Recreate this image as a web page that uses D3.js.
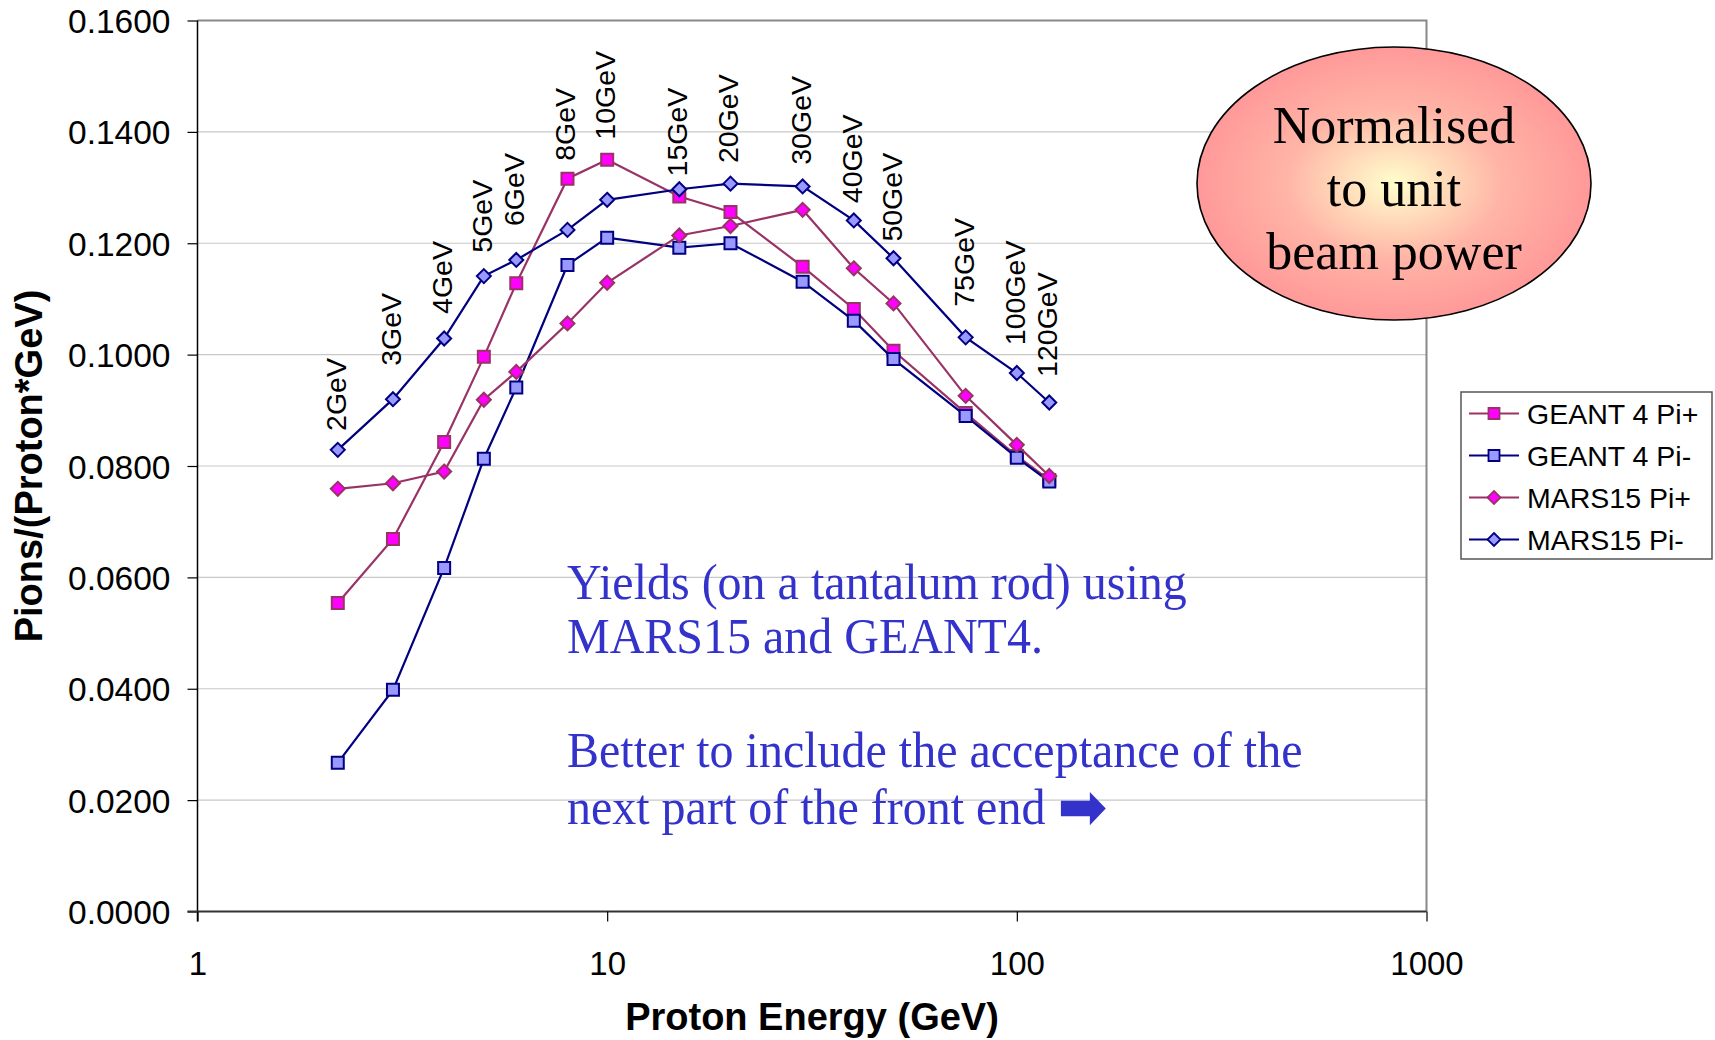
<!DOCTYPE html>
<html>
<head>
<meta charset="utf-8">
<script src="https://cdn.jsdelivr.net/npm/d3@7/dist/d3.min.js"></script>
<style>
  body { margin: 0; background: #fff; }
  svg { display: block; }
</style>
</head>
<body>
<div id="chart"></div>
<script>
// proton energy (GeV) and the labels printed over each point
var energy = [2.2, 3, 4, 5, 6, 8, 10, 15, 20, 30, 40, 50, 75, 100, 120];
var energyLabels = ["2GeV", "3GeV", "4GeV", "5GeV", "6GeV", "8GeV", "10GeV", "15GeV",
                    "20GeV", "30GeV", "40GeV", "50GeV", "75GeV", "100GeV", "120GeV"];
// height (in y units) where each energy label starts
var labelBase = [0.0863, 0.0980, 0.1073, 0.1183, 0.1231, 0.1348, 0.1386, 0.1320,
                 0.1344, 0.1341, 0.1272, 0.1203, 0.1086, 0.1017, 0.0960];

var g4PiPlus   = [0.0554, 0.0669, 0.0843, 0.0996, 0.1128, 0.1316, 0.1350, 0.1284,
                  0.1256, 0.1158, 0.1082, 0.1007, 0.0895, 0.0818, 0.0775];
var g4PiMinus  = [0.0267, 0.0398, 0.0617, 0.0813, 0.0941, 0.1161, 0.1210, 0.1192,
                  0.1200, 0.1131, 0.1061, 0.0992, 0.0890, 0.0815, 0.0772];
var marsPiPlus = [0.0759, 0.0769, 0.0790, 0.0919, 0.0969, 0.1056, 0.1129, 0.1214,
                  0.1231, 0.1260, 0.1155, 0.1092, 0.0926, 0.0838, 0.0782];
var marsPiMinus= [0.0829, 0.0920, 0.1029, 0.1141, 0.1170, 0.1224, 0.1278, 0.1297,
                  0.1307, 0.1302, 0.1241, 0.1173, 0.1031, 0.0967, 0.0914];

var seriesNames = ["GEANT 4 Pi+", "GEANT 4 Pi-", "MARS15 Pi+", "MARS15 Pi-"];
var yTicks = [0, 0.02, 0.04, 0.06, 0.08, 0.10, 0.12, 0.14, 0.16];
var xTicks = [1, 10, 100, 1000];

var series = [
  {name: seriesNames[0], values: g4PiPlus,   line: "#993366", fill: "#FF00FF", stroke: "#993366", shape: "square"},
  {name: seriesNames[1], values: g4PiMinus,  line: "#000080", fill: "#9999FF", stroke: "#000080", shape: "square"},
  {name: seriesNames[2], values: marsPiPlus, line: "#993366", fill: "#FF00FF", stroke: "#993366", shape: "diamond"},
  {name: seriesNames[3], values: marsPiMinus,line: "#000080", fill: "#9999FF", stroke: "#000080", shape: "diamond"}
];

var W = 1715, H = 1040;
var plotL = 197.5, plotR = 1426.5, plotT = 20.5, plotB = 911.5;

var svg = d3.select("#chart").append("svg")
    .attr("width", W)
    .attr("height", H);

var x = d3.scaleLog().domain([1, 1000]).range([plotL, plotR]);
var y = d3.scaleLinear().domain([0, 0.16]).range([plotB, plotT]);

// gridlines
svg.append("g")
  .selectAll("line")
  .data(yTicks.slice(1, -1))
  .enter().append("line")
    .attr("x1", plotL).attr("x2", plotR)
    .attr("y1", function(d) { return y(d); })
    .attr("y2", function(d) { return y(d); })
    .style("stroke", "#c8c8c8")
    .style("stroke-width", 1.2);

// plot border top and right
svg.append("path")
    .attr("d", "M" + plotL + "," + plotT + "H" + plotR + "V" + plotB)
    .style("fill", "none")
    .style("stroke", "#888")
    .style("stroke-width", 2);

// axes
var yAxis = svg.append("g")
    .attr("transform", "translate(" + plotL + ",0)")
    .call(d3.axisLeft(y).tickValues(yTicks).tickSize(10).tickSizeOuter(0).tickFormat(d3.format(".4f")));
yAxis.select(".domain").style("stroke", "#000").style("stroke-width", 1.5)
    .attr("d", "M0," + plotT + "V" + (plotB + 10));
yAxis.selectAll(".tick line").style("stroke", "#000").style("stroke-width", 1.2);
yAxis.selectAll(".tick text")
    .attr("x", -27).attr("dy", null).attr("y", 12)
    .style("font-family", "Liberation Sans, Arial, sans-serif")
    .style("font-size", "33.5px")
    .style("fill", "#000");

var xAxis = svg.append("g")
    .attr("transform", "translate(0," + plotB + ")")
    .call(d3.axisBottom(x).tickValues(xTicks).tickSize(10).tickSizeOuter(0).tickFormat(d3.format("d")));
xAxis.select(".domain").style("stroke", "#333").style("stroke-width", 2.2)
    .attr("d", "M" + (plotL - 10) + ",0H" + plotR);
xAxis.selectAll(".tick line").style("stroke", "#000").style("stroke-width", 1.2);
xAxis.selectAll(".tick text")
    .attr("dy", null).attr("y", 63)
    .style("font-family", "Liberation Sans, Arial, sans-serif")
    .style("font-size", "33px")
    .style("fill", "#000");

// axis titles
svg.append("text")
    .attr("transform", "translate(812,1030)")
    .attr("text-anchor", "middle")
    .style("font-family", "Liberation Sans, Arial, sans-serif")
    .style("font-weight", "bold")
    .style("font-size", "38px")
    .text("Proton Energy (GeV)");

svg.append("text")
    .attr("transform", "translate(42,466) rotate(-90)")
    .attr("text-anchor", "middle")
    .style("font-family", "Liberation Sans, Arial, sans-serif")
    .style("font-weight", "bold")
    .style("font-size", "38px")
    .text("Pions/(Proton*GeV)");

// series
function markerPath(shape, s) {
  if (shape === "square") return "M" + (-s) + "," + (-s) + "H" + s + "V" + s + "H" + (-s) + "Z";
  return "M0," + (-s) + "L" + s + ",0L0," + s + "L" + (-s) + ",0Z";
}

var line = d3.line()
    .x(function(d, i) { return x(energy[i]); })
    .y(function(d) { return y(d); });

series.forEach(function(s) {
  var g = svg.append("g");
  g.append("path")
      .datum(s.values)
      .attr("d", line)
      .style("fill", "none")
      .style("stroke", s.line)
      .style("stroke-width", 2.2);
  g.selectAll("path.mk")
      .data(s.values)
      .enter().append("path")
      .attr("class", "mk")
      .attr("transform", function(d, i) { return "translate(" + x(energy[i]) + "," + y(d) + ")"; })
      .attr("d", markerPath(s.shape, s.shape === "square" ? 6 : 7))
      .style("fill", s.fill)
      .style("stroke", s.stroke)
      .style("stroke-width", 2);
});

// energy labels
svg.append("g")
  .selectAll("text")
  .data(energyLabels)
  .enter().append("text")
    .attr("transform", function(d, i) {
      return "translate(" + (x(energy[i]) + 8) + "," + y(labelBase[i]) + ") rotate(-90)";
    })
    .style("font-family", "Liberation Sans, Arial, sans-serif")
    .style("font-size", "28.5px")
    .style("fill", "#000")
    .text(function(d) { return d; });

// note in the middle
var note = svg.append("text")
    .attr("transform", "translate(567,0) scale(0.96,1)")
    .style("font-family", "Liberation Serif, Times New Roman, serif")
    .style("font-size", "50px")
    .style("fill", "#3333CC");
note.append("tspan").attr("x", 0).attr("y", 599).text("Yields (on a tantalum rod) using");
note.append("tspan").attr("x", 0).attr("y", 653).text("MARS15 and GEANT4.");
note.append("tspan").attr("x", 0).attr("y", 767).text("Better to include the acceptance of the");
note.append("tspan").attr("x", 0).attr("y", 824).text("next part of the front end ");
note.append("tspan")
    .attr("dy", 4)
    .style("font-family", "DejaVu Sans, sans-serif")
    .style("font-weight", "bold")
    .style("font-size", "62px")
    .text("\u27A1");

// ellipse callout
var grad = svg.append("defs").append("radialGradient")
    .attr("id", "glow");
grad.append("stop").attr("offset", "0%").attr("stop-color", "#FFFFCC");
grad.append("stop").attr("offset", "55%").attr("stop-color", "#FFB4A6");
grad.append("stop").attr("offset", "100%").attr("stop-color", "#FF9999");

svg.append("ellipse")
    .attr("cx", 1394).attr("cy", 183.5)
    .attr("rx", 197).attr("ry", 136.5)
    .style("fill", "url(#glow)")
    .style("stroke", "#000")
    .style("stroke-width", 1.6);

var bubble = svg.append("text")
    .attr("text-anchor", "middle")
    .style("font-family", "Liberation Serif, Times New Roman, serif")
    .style("font-size", "52px")
    .style("fill", "#000");
bubble.append("tspan").attr("x", 1394).attr("y", 143).text("Normalised");
bubble.append("tspan").attr("x", 1394).attr("y", 206).text("to unit");
bubble.append("tspan").attr("x", 1394).attr("y", 269).text("beam power");

// legend
var legend = svg.append("g");
legend.append("rect")
    .attr("x", 1461).attr("y", 392)
    .attr("width", 251).attr("height", 167)
    .style("fill", "#fff")
    .style("stroke", "#555")
    .style("stroke-width", 1.5);

var rowY = d3.scalePoint().domain(seriesNames).range([413.5, 539.5]);

series.forEach(function(s) {
  var ry = rowY(s.name);
  legend.append("line")
      .attr("x1", 1469).attr("x2", 1519)
      .attr("y1", ry).attr("y2", ry)
      .style("stroke", s.line)
      .style("stroke-width", 2.2);
  legend.append("path")
      .attr("transform", "translate(1494," + ry + ")")
      .attr("d", markerPath(s.shape, s.shape === "square" ? 5.5 : 6.5))
      .style("fill", s.fill)
      .style("stroke", s.stroke)
      .style("stroke-width", 1.8);
  legend.append("text")
      .attr("transform", "translate(1527," + (ry + 10) + ")")
      .style("font-family", "Liberation Sans, Arial, sans-serif")
      .style("font-size", "28.5px")
      .style("fill", "#000")
      .text(s.name);
});
</script>
</body>
</html>
